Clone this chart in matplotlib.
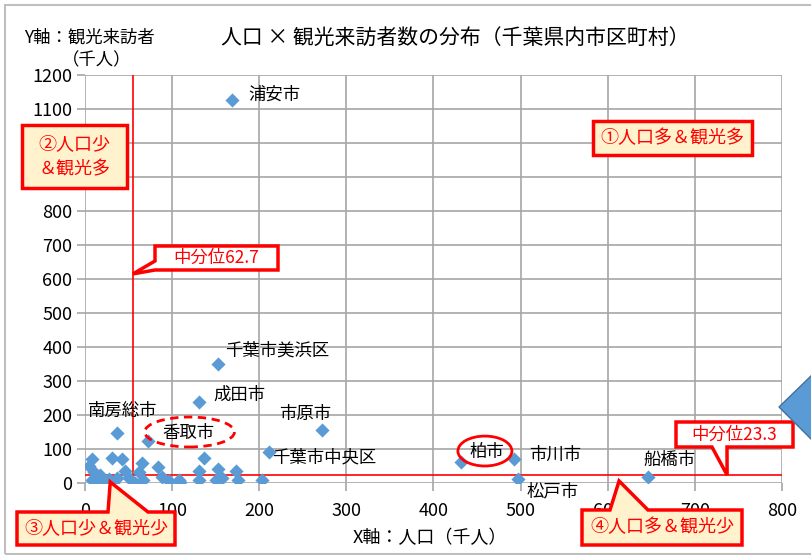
import matplotlib.pyplot as plt
from matplotlib.patches import Ellipse, Polygon, Rectangle

plt.rcParams['font.family'] = ['Noto Sans CJK JP', 'DejaVu Sans']

# labelled municipalities: population (thousand), visitors (thousand)
names = ["浦安市", "千葉市美浜区", "成田市", "市原市", "南房総市", "香取市",
         "千葉市中央区", "柏市", "市川市", "松戸市", "船橋市"]
pop_named = [169, 153, 131, 272, 37, 72, 211, 431, 492, 497, 646]
vis_named = [1126, 350, 238, 156, 147, 124, 91, 62, 70, 12, 19]
# label offsets in pixels (dx, dy)
label_off = [(16, 5), (7, 13), (14, 7), (-43, 16), (-29, 22), (15, 8),
             (3, -5), (9, 10), (15, 4), (9, -12), (-4, 17)]

# remaining municipalities (unlabelled)
pop_other = [8, 5, 10, 8, 14, 20, 23, 31, 43, 37, 46, 50, 65, 62, 67, 84, 88,
             96, 108, 137, 131, 131, 153, 150, 157, 173, 176, 203, 17, 57, 32, 109, 27]
vis_other = [71, 51, 33, 9, 4, 9, 0, 74, 71, 15, 35, 15, 58, 33, 9, 48, 19,
             6, 9, 75, 35, 9, 41, 9, 14, 35, 9, 9, 24, 0, 0, 2, 12]

median_pop = 62.7
median_vis = 23.3
median_pop_drawn = 55  # where the vertical line sits in the original

y_ticks = list(range(0, 1201, 100))
y_hidden = [900, 1000]  # covered by the ② box in the original

W, H = 812, 555
fig = plt.figure(figsize=(W / 100, H / 100), dpi=100)
ax = fig.add_axes([85 / W, 1 - 483 / H, (782 - 85) / W, (483 - 75) / H])

blue = '#5b9bd5'
red = '#ff0000'
beige = '#fff2cc'

ax.scatter(pop_other, vis_other, marker='D', s=52, color=blue, zorder=3, linewidths=0)
ax.scatter(pop_named, vis_named, marker='D', s=52, color=blue, zorder=3, linewidths=0)

for n, x, y, (dx, dy) in zip(names, pop_named, vis_named, label_off):
    ax.annotate(n, (x, y), xytext=(dx, dy), textcoords='offset pixels',
                fontsize=12.5, ha='left', va='center', annotation_clip=False, zorder=5)

ax.set_xlim(0, 800)
ax.set_ylim(0, 1200)
ax.set_xticks(range(0, 801, 100))
ax.set_yticks(y_ticks)
ax.set_yticklabels(['' if t in y_hidden else str(t) for t in y_ticks])
ax.grid(True, color='#a6a6a6', lw=1.2)
ax.set_axisbelow(True)
for s in ax.spines.values():
    s.set_visible(False)
ax.tick_params(length=6, color='#a6a6a6', labelsize=13, width=1.2)
ax.tick_params(axis='x', pad=8)
ax.tick_params(axis='y', pad=3)

# median lines
ax.axvline(median_pop_drawn, color=red, lw=1.2, zorder=2)
ax.axhline(median_vis, color=red, lw=1.2, zorder=2)

# ellipses around 香取市 and 柏市 labels
ax.add_patch(Ellipse((120, 150), 103, 88, fill=False, ec=red, lw=2, ls=(0, (3, 2)), zorder=4))
ax.add_patch(Ellipse((459, 94), 62, 88, fill=False, ec=red, lw=2, zorder=4))

# titles (positions given in pixels from the top-left corner)
def ftext(x, y, s, **kw):
    fig.text(x / W, 1 - y / H, s, va='center', **kw)

ftext(455, 38, "人口 × 観光来訪者数の分布（千葉県内市区町村）", fontsize=15, ha='center')
ftext(24, 38, "Y軸：観光来訪者", fontsize=12.5, ha='left')
ftext(62, 60, "（千人）", fontsize=12.5, ha='left')
ftext(430, 538, "X軸：人口（千人）", fontsize=13, ha='center')


# boxes and callouts drawn as outlines in top-left pixel coords
def to_px(x, y):
    dx, dy = ax.transData.transform((x, y))
    return dx, H - dy


def shape(x0, y0, x1, y1, fc, side=None, b0=0, b1=0, tip=None):
    pts = [(x0, y0)]
    if side == 'top':
        pts += [(b0, y0), tip, (b1, y0)]
    pts += [(x1, y0), (x1, y1)]
    if side == 'bottom':
        pts += [(b1, y1), tip, (b0, y1)]
    pts += [(x0, y1)]
    if side == 'left':
        pts += [(x0, b1), tip, (x0, b0)]
    poly = Polygon([(px, H - py) for px, py in pts], closed=True, transform=None,
                   fc=fc, ec=red, lw=2.5, joinstyle='miter')
    fig.patches.append(poly)


def label(x0, y0, x1, y1, s, size=13, **kw):
    ftext((x0 + x1) / 2, (y0 + y1) / 2, s, fontsize=size, color=red, ha='center',
          zorder=4, **kw)


shape(593, 121, 752, 155, beige)
label(593, 121, 752, 155, "①人口多＆観光多")

shape(22, 125, 127, 188, beige)
label(22, 125, 127, 188, "②人口少\n＆観光多", linespacing=1.5)

shape(155, 246, 278, 270, 'white', 'left', 261, 270, to_px(median_pop_drawn, 615))
label(155, 246, 278, 270, "中分位62.7", size=12.5)

shape(676, 422, 793, 447, 'white', 'bottom', 712, 727, to_px(737, median_vis))
label(676, 422, 793, 447, "中分位23.3", size=12.5)

shape(17, 512, 175, 545, beige, 'top', 108, 148, to_px(29, 3))
label(17, 512, 175, 545, "③人口少＆観光少")

shape(582, 510, 742, 545, beige, 'top', 610, 648, to_px(613, 6))
label(582, 510, 742, 545, "④人口多＆観光少")

# outer frame and partial arrow shape at right edge
fig.patches.append(Rectangle((5, 1), 820, 549, transform=None, fill=False,
                             ec='#bfbfbf', lw=1.5, zorder=0))
fig.patches.append(Polygon([(779, H - 407), (812, H - 375), (812, H - 440)],
                           closed=True, transform=None, fc=blue, ec='#41719c', lw=1))

fig.savefig('out.png', dpi=100)
